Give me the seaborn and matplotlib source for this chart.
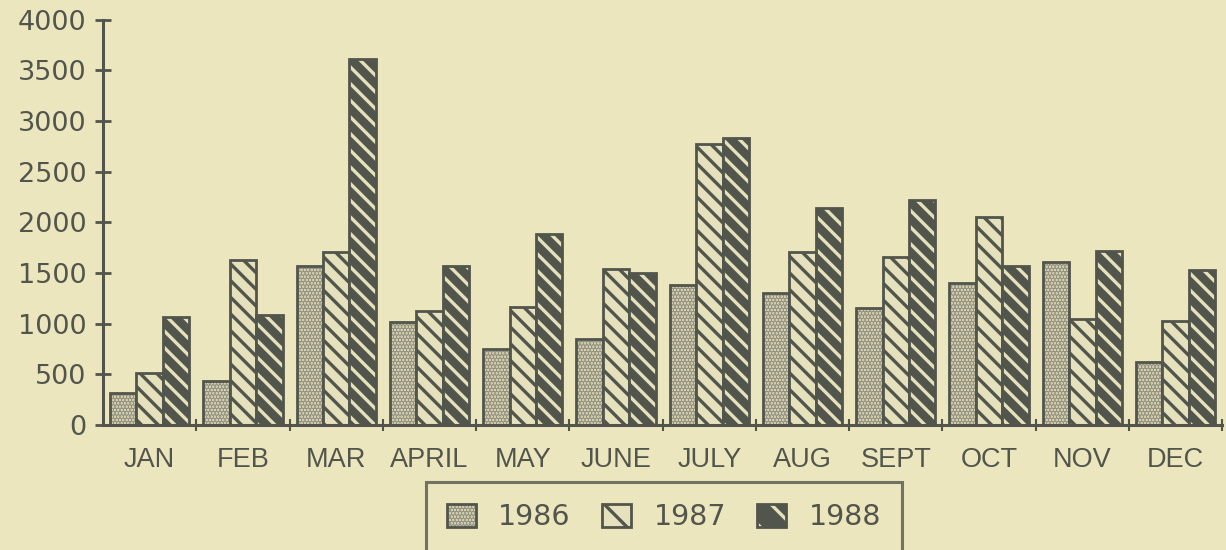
import matplotlib
matplotlib.use("Agg")
import matplotlib.pyplot as plt
from matplotlib.patches import Patch
from matplotlib.colors import to_rgba
import seaborn as sns
import pandas as pd

months = ["JAN", "FEB", "MAR", "APRIL", "MAY", "JUNE", "JULY", "AUG", "SEPT", "OCT", "NOV", "DEC"]
years = ["1986", "1987", "1988"]
sales_1986 = [315, 435, 1570, 1015, 755, 855, 1385, 1300, 1160, 1400, 1610, 620]
sales_1987 = [510, 1625, 1705, 1125, 1170, 1545, 2770, 1705, 1655, 2055, 1050, 1025]
sales_1988 = [1065, 1090, 3610, 1570, 1890, 1500, 2830, 2140, 2220, 1575, 1715, 1530]
yticks = [0, 500, 1000, 1500, 2000, 2500, 3000, 3500, 4000]

bg = "#ece6bf"
ink = "#51554b"
light = "#e6e1bd"

df = pd.DataFrame({
    "month": months * 3,
    "year": [y for y in years for _ in months],
    "value": sales_1986 + sales_1987 + sales_1988,
})

sns.set_style("ticks")
plt.rcParams["font.family"] = ["Liberation Sans", "DejaVu Sans"]
plt.rcParams["hatch.linewidth"] = 2.4

fig = plt.figure(figsize=(12.26, 5.5), dpi=100, facecolor=bg)
ax = fig.add_axes([0.084, 0.227, 0.913, 0.737])
ax.set_facecolor(bg)

sns.barplot(data=df, x="month", y="value", hue="year", order=months, hue_order=years,
            width=0.85, gap=0, legend=False, errorbar=None, ax=ax)

# fill / hatch styles per year: (face, hatch, hatch colour)
styles = [
    ("#ded8b5", ".....", "#949381"),
    (light, "\\\\", ink),
    (ink, "\\\\", light),
]


def style_patch(p, face, hatch, hcolor):
    p.set_facecolor(face)
    p.set_edgecolor(ink)
    p.set_linewidth(2)
    p.set_hatch(hatch)
    if hasattr(p, "set_hatchcolor"):
        p.set_hatchcolor(hcolor)
    else:
        p._hatch_color = to_rgba(hcolor)


for cont, (face, hatch, hcolor) in zip(ax.containers, styles):
    for p in cont:
        style_patch(p, face, hatch, hcolor)

ax.set_ylim(0, 4000)
ax.set_xlim(-0.5, len(months) - 0.5)
ax.set_yticks(yticks)
ax.set_yticklabels([str(v) for v in yticks], fontsize=19.5, color=ink, family="DejaVu Sans")
ax.set_xticks(range(len(months)))
ax.set_xticklabels(months, fontsize=19.5, color=ink)
ax.set_xticks([i + 0.5 for i in range(len(months))], minor=True)
ax.tick_params(axis="x", which="major", length=0, pad=16)
ax.tick_params(axis="x", which="minor", length=8, width=1.5, direction="inout", color=ink)
ax.tick_params(axis="y", length=12, width=2, direction="inout", color=ink, pad=6)
ax.set_xlabel("")
ax.set_ylabel("")
sns.despine(ax=ax)
for s in ["left", "bottom"]:
    ax.spines[s].set_color(ink)
    ax.spines[s].set_linewidth(2.2)

handles = []
for (face, hatch, hcolor), y in zip(styles, years):
    h = Patch(label=y)
    style_patch(h, face, "\\" if hatch.startswith("\\") else hatch, hcolor)
    handles.append(h)

leg = fig.legend(handles=handles, loc="upper center", bbox_to_anchor=(664 / 1226, 1 - 482 / 550),
                 ncol=3, frameon=True, fancybox=False,
                 prop={"family": "DejaVu Sans", "size": 20.5},
                 handlelength=1.0, handleheight=0.9, handletextpad=0.8,
                 columnspacing=1.1, borderpad=0.75, borderaxespad=0, labelcolor=ink)
leg.get_frame().set_edgecolor(ink)
leg.get_frame().set_linewidth(2.2)
leg.get_frame().set_facecolor(bg)

fig.savefig("out.png", dpi=100, facecolor=bg)
